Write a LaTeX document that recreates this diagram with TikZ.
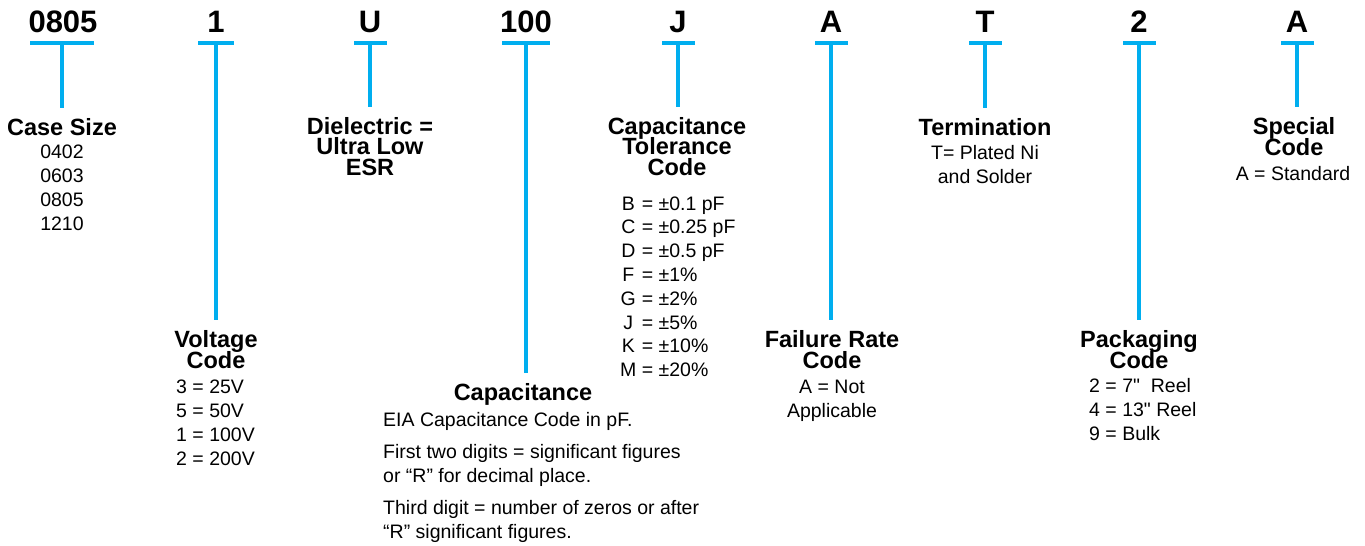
\documentclass[tikz,border=0pt]{standalone}
\usepackage{fontspec}
\setmainfont{Liberation Sans}[Ligatures=TeXOff]
\definecolor{pncyan}{RGB}{0,174,239}
\newcommand{\pnTitle}{\fontsize{23.5}{20.5}\selectfont\bfseries\lineskiplimit=-30pt}
\newcommand{\pnBody}{\fontsize{19.5}{23.8}\selectfont}
\begin{document}
\begin{tikzpicture}[x=1pt, y=1pt]
	\tikzstyle{code} = [font=\fontsize{31}{31}\selectfont\bfseries, anchor=base, inner sep=0pt]
	\tikzstyle{bar} = [rectangle, fill=pncyan, minimum height=4pt, inner sep=0pt]
	\tikzstyle{heading} = [font=\pnTitle, align=center, anchor=base, inner sep=2pt]
	\tikzstyle{body} = [font=\pnBody, anchor=base, inner sep=0pt]
	\tikzstyle{stem} = [color=pncyan, line width=3.4pt, shorten >=8pt]
	\useasboundingbox (0,0) rectangle (1365,-546);
	
	% part number, one code per field
	\node[code](c-1)at (63,-32){0805};
	\node[code](c-2)at (216,-32){1};
	\node[code](c-3)at (370,-32){U};
	\node[code](c-4)at (526,-32){100};
	\node[code](c-5)at (678,-32){J};
	\node[code](c-6)at (831,-32){A};
	\node[code](c-7)at (985,-32){T};
	\node[code](c-8)at (1139,-32){2};
	\node[code](c-9)at (1297,-32){A};
	
	\node[bar, minimum width=64pt](b-1)at (62,-42.8){};
	\node[bar, minimum width=36pt](b-2)at (216,-42.8){};
	\node[bar, minimum width=33pt](b-3)at (370,-42.8){};
	\node[bar, minimum width=48pt](b-4)at (526,-42.8){};
	\node[bar, minimum width=33pt](b-5)at (678,-42.8){};
	\node[bar, minimum width=33pt](b-6)at (831,-42.8){};
	\node[bar, minimum width=33pt](b-7)at (985,-42.8){};
	\node[bar, minimum width=33pt](b-8)at (1139,-42.8){};
	\node[bar, minimum width=33pt](b-9)at (1297,-42.8){};
	
	% headings (base = last line)
	\node[heading](t-1)at (62,-135){Case Size};
	\node[heading](t-2)at (216,-368){Voltage\\Code};
	\node[heading](t-3)at (370,-175){Dielectric =\\Ultra Low\\ESR};
	\node[heading](t-4)at (523,-400){Capacitance};
	\node[heading](t-5)at (677,-175){Capacitance\\Tolerance\\Code};
	\node[heading](t-6)at (832,-368){Failure Rate\\Code};
	\node[heading](t-7)at (985,-135){Termination};
	\node[heading](t-8)at (1139,-368){Packaging\\Code};
	\node[heading](t-9)at (1294,-155){Special\\Code};
	
	% values
	\node[body, align=center](d-1)at (62,-230){0402\\0603\\0805\\1210};
	\node[body, align=left, anchor=base west](d-2)at (176,-465){3 = 25V\\5 = 50V\\1 = 100V\\2 = 200V};
	\node[body, align=left, anchor=base west](d-4)at (383,-538){EIA Capacitance Code in pF.\\[8pt]
		First two digits = significant figures\\or “R” for decimal place.\\[8pt]
		Third digit = number of zeros or after\\“R” significant figures.};
	\node[body, anchor=base west](d-5)at (620,-210){\begin{tabular}[t]{@{}c@{ }l@{}}
		B & = ±0.1 pF\\ C & = ±0.25 pF\\ D & = ±0.5 pF\\ F & = ±1\%\\
		G & = ±2\%\\ J & = ±5\%\\ K & = ±10\%\\ M & = ±20\%
		\end{tabular}};
	\node[body, align=center](d-6)at (832,-417){A = Not\\Applicable};
	\node[body, align=center](d-7)at (985,-183){T= Plated Ni\\and Solder};
	\node[body, align=left, anchor=base west](d-8)at (1089,-440){2 = 7"\ \ Reel\\4 = 13" Reel\\9 = Bulk};
	\node[body](d-9)at (1293,-180){A = Standard};
	
	\path[stem] (b-1.south) edge (b-1.south |- t-1.north)
	(b-2.south) edge (b-2.south |- t-2.north)
	(b-3.south) edge (b-3.south |- t-3.north)
	(b-4.south) edge (b-4.south |- t-4.north)
	(b-5.south) edge (b-5.south |- t-5.north)
	(b-6.south) edge (b-6.south |- t-6.north)
	(b-7.south) edge (b-7.south |- t-7.north)
	(b-8.south) edge (b-8.south |- t-8.north)
	(b-9.south) edge (b-9.south |- t-9.north);
	
\end{tikzpicture}
\end{document}
